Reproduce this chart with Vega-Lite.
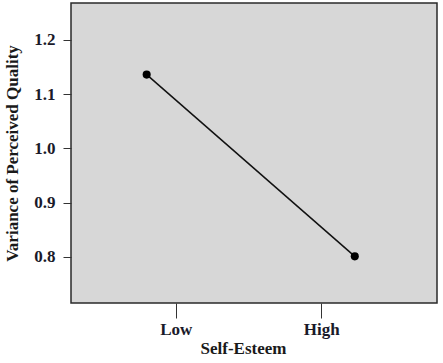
{
  "$schema": "https://vega.github.io/schema/vega-lite/v6.json",
  "autosize": "none",
  "width": 366,
  "height": 300,
  "padding": {"left": 71, "top": 3, "right": 6, "bottom": 60},
  "background": "white",
  "config": {
    "view": {"fill": "#d7d7d7", "stroke": "#2a2a2a", "strokeWidth": 1.5},
    "axis": {
      "labelFont": "Liberation Serif", "labelFontWeight": "bold", "labelFontSize": 17, "labelColor": "#1a1a2a",
      "titleFont": "Liberation Serif", "titleFontWeight": "bold", "titleFontSize": 17, "titleColor": "#1a1a1a",
      "domain": false, "grid": false, "tickColor": "#333", "tickWidth": 1
    }
  },
  "data": {"values": [
    {"level": 0.8, "variance": 1.136},
    {"level": 2.23, "variance": 0.801}
  ]},
  "encoding": {
    "x": {"field": "level", "type": "quantitative",
      "scale": {"domain": [0.28, 2.795], "nice": false, "zero": false},
      "axis": {"values": [1, 2], "labelExpr": "datum.value == 1 ? 'Low' : 'High'", "tickSize": 15, "labelPadding": 3, "title": "Self-Esteem", "titlePadding": 3, "titleX": 172, "labelFlush": false}},
    "y": {"field": "variance", "type": "quantitative",
      "scale": {"domain": [0.715, 1.268], "nice": false, "zero": false},
      "axis": {"values": [0.8, 0.9, 1.0, 1.1, 1.2], "format": ".1f", "tickSize": 8, "labelPadding": 8, "title": "Variance of Perceived Quality", "titlePadding": 12, "labelFlush": false}}
  },
  "layer": [
    {"mark": {"type": "line", "color": "#111", "strokeWidth": 1.5}},
    {"mark": {"type": "point", "filled": true, "color": "#000", "size": 65, "opacity": 1}}
  ]
}
